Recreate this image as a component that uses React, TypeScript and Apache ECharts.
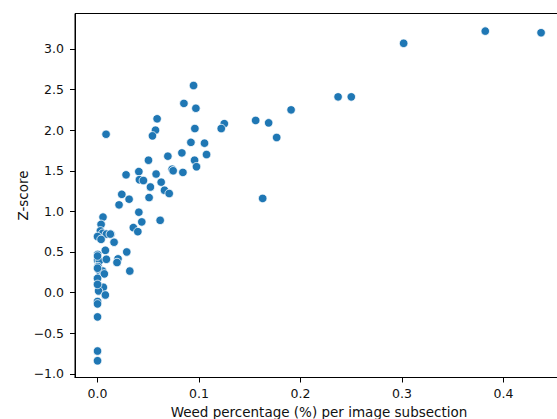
import React, { useEffect, useRef } from "react";
import * as echarts from "echarts";

const weedPct: number[] = [
  0.3016, 0.382, 0.437, 0.237, 0.25, 0.1907, 0.1558, 0.1686, 0.1765, 0.1627,
  0.0946, 0.0851, 0.0969, 0.0587, 0.0571, 0.0541, 0.0084, 0.0959, 0.1249, 0.1219,
  0.092, 0.1054, 0.0831, 0.0693, 0.0502, 0.0956, 0.1074, 0.0975, 0.0735, 0.0745,
  0.0841, 0.0577, 0.0407, 0.0281, 0.0413, 0.0452, 0.0627, 0.0521, 0.066, 0.0706,
  0.0239, 0.0311, 0.0212, 0.0508, 0.0407, 0.0436, 0.0617, 0.0353, 0.0397, 0.0133,
  0.0054, 0.0035, 0.0028, 0.0051, 0.0087, 0.0126, 0.0, 0.0035, 0.0163, 0.0077,
  0.0288, 0.0002, 0.0, 0.0018, 0.0087, 0.0202, 0.0192, 0.0318, 0.0005, 0.0018,
  0.0051, 0.0067, 0.0, 0.0018, 0.0057, 0.001, 0.0077, 0.0, 0.0, 0.0,
  0.0, 0.0, 0.0, 0.0, 0.0,
];

const zScore: number[] = [
  3.07, 3.22, 3.2, 2.41, 2.41, 2.25, 2.12, 2.09, 1.91, 1.16,
  2.55, 2.33, 2.27, 2.14, 2.0, 1.93, 1.95, 2.02, 2.08, 2.02,
  1.85, 1.84, 1.72, 1.68, 1.63, 1.63, 1.7, 1.55, 1.52, 1.5,
  1.48, 1.46, 1.49, 1.45, 1.39, 1.38, 1.36, 1.3, 1.26, 1.22,
  1.21, 1.15, 1.08, 1.17, 0.99, 0.87, 0.89, 0.8, 0.75, 0.72,
  0.93, 0.84, 0.76, 0.73, 0.72, 0.72, 0.69, 0.655, 0.62, 0.52,
  0.5, 0.47, 0.4, 0.39, 0.41, 0.415, 0.37, 0.265, 0.32, 0.27,
  0.265, 0.23, 0.175, 0.065, 0.065, 0.02, -0.03, -0.11, -0.14, -0.3,
  -0.72, -0.84, 0.45, 0.3, 0.1,
];

const xTicks: number[] = [0, 0.1, 0.2, 0.3, 0.4];
const yTicks: number[] = [-1.0, -0.5, 0.0, 0.5, 1.0, 1.5, 2.0, 2.5, 3.0];

const xTitle = "Weed percentage (%) per image subsection";
const yTitle = "Z-score";

const fmt = (v: number) => {
  const s = Math.abs(v).toFixed(1);
  return v < -1e-9 ? "\u2212" + s : s;
};

export default function App() {
  const ref = useRef<HTMLDivElement>(null);
  useEffect(() => {
    if (!ref.current) return;
    const chart = echarts.init(ref.current, undefined, { renderer: "svg" });
    const font = "DejaVu Sans";
    const axisCommon = {
      axisLine: { show: true, onZero: false, lineStyle: { color: "#000", width: 1 } },
      axisTick: { show: true, inside: false, length: 5, lineStyle: { color: "#000", width: 1 } },
      splitLine: { show: false },
    };
    chart.setOption({
      animation: false,
      backgroundColor: "#fff",
      grid: {
        left: 75,
        top: 13.5,
        width: 488,
        height: 364,
        show: true,
        borderColor: "#000",
        borderWidth: 1,
        backgroundColor: "transparent",
        containLabel: false,
        outerBoundsMode: "none",
      },
      xAxis: {
        type: "value",
        min: -0.0222,
        max: 0.4586,
        ...axisCommon,
        axisTick: { ...axisCommon.axisTick, customValues: xTicks },
        axisLabel: {
          customValues: xTicks,
          formatter: (v: number) => fmt(v),
          color: "#111",
          fontFamily: font,
          fontSize: 12.5,
          margin: 9,
        },
        name: xTitle,
        nameLocation: "middle",
        nameGap: 27,
        nameMoveOverlap: false,
        nameTextStyle: { color: "#111", fontFamily: font, fontSize: 13.5 },
      },
      yAxis: {
        type: "value",
        min: -1.046,
        max: 3.437,
        ...axisCommon,
        axisTick: { ...axisCommon.axisTick, customValues: yTicks },
        axisLabel: {
          customValues: yTicks,
          formatter: (v: number) => fmt(v),
          color: "#111",
          fontFamily: font,
          fontSize: 12.5,
          margin: 11,
        },
        name: yTitle,
        nameLocation: "middle",
        nameGap: 45,
        nameRotate: 90,
        nameMoveOverlap: false,
        nameTextStyle: { color: "#111", fontFamily: font, fontSize: 13.5 },
      },
      series: [
        {
          type: "scatter",
          data: weedPct.map((x, i) => [x, zScore[i]]),
          symbol: "circle",
          symbolSize: 8.5,
          itemStyle: { color: "#1f77b4", borderColor: "#fff", borderWidth: 0.8, opacity: 1 },
          emphasis: { disabled: true },
        },
      ],
    });
    return () => chart.dispose();
  }, []);
  return (
    <div style={{ position: "fixed", left: 0, top: 0, width: 557, height: 419, overflow: "hidden", background: "#fff" }}>
      <div ref={ref} style={{ width: 566, height: 419 }} />
    </div>
  );
}
